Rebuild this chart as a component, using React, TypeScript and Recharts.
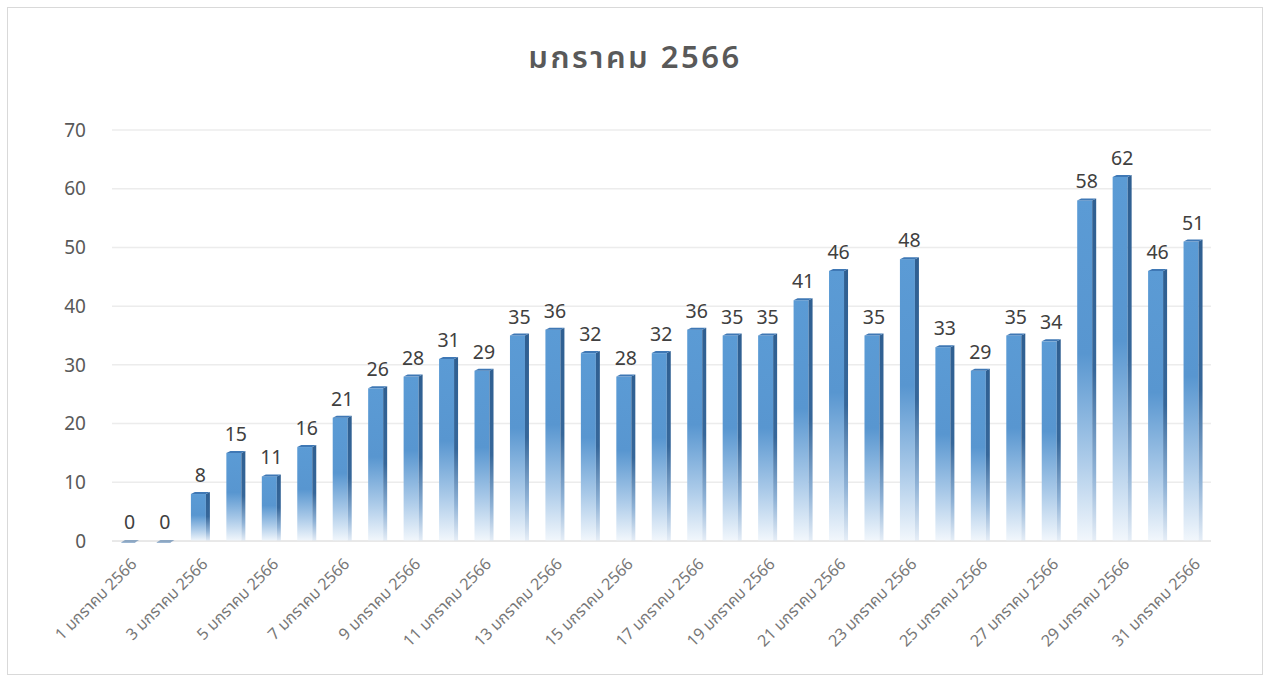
import React from 'react';
import { BarChart, Bar, XAxis, YAxis, CartesianGrid, LabelList } from 'recharts';

const days: number[] = [1,2,3,4,5,6,7,8,9,10,11,12,13,14,15,16,17,18,19,20,21,22,23,24,25,26,27,28,29,30,31];
const categories: string[] = days.map((d) => `${d} มกราคม 2566`);
const values: number[] = [0,0,8,15,11,16,21,26,28,31,29,35,36,32,28,32,36,35,35,41,46,35,48,33,29,35,34,58,62,46,51];
const yTicks: number[] = [0,10,20,30,40,50,60,70];
const title = 'มกราคม 2566';

const data = categories.map((c, i) => ({ name: c, value: values[i] }));

const FONT = "'Noto Sans', 'Noto Sans Thai', 'DejaVu Sans', 'Liberation Sans', sans-serif";

const Bar3D = (props: any) => {
  const { x, y, width, height } = props;
  const side = 4;
  const fw = width - side;
  if (!height || height <= 0.5) {
    return (
      <g>
        <polygon points={`${x + 1},${y + 1.5} ${x + 5},${y - 1} ${x + width},${y - 1} ${x + width - 4},${y + 1.5}`} fill="#3a6ea5" />
      </g>
    );
  }
  return (
    <g>
      <rect x={x} y={y} width={fw} height={height} fill="url(#frontGrad)" />
      <polygon
        points={`${x + fw},${y} ${x + width},${y - 2} ${x + width},${y + height} ${x + fw},${y + height}`}
        fill="url(#sideGrad)"
      />
      <polygon
        points={`${x},${y} ${x + side},${y - 2} ${x + width},${y - 2} ${x + fw},${y}`}
        fill="#3f78b5"
      />
    </g>
  );
};

export default function App() {
  return (
    <div
      style={{
        position: 'absolute',
        left: 7,
        top: 7,
        width: 1254,
        height: 666,
        border: '1px solid #d9d9d9',
        background: '#ffffff',
        fontFamily: FONT,
      }}
    >
      <div
        style={{
          position: 'absolute',
          left: 0,
          top: 27,
          width: '100%',
          textAlign: 'center',
          fontSize: 31,
          fontWeight: 600,
          color: '#595959',
          letterSpacing: 2.5,
          fontFamily: FONT,
        }}
      >
        {title}
      </div>
      <div style={{ position: 'absolute', left: 0, top: 0 }}>
        <BarChart
          width={1254}
          height={666}
          data={data}
          margin={{ top: 122, right: 51, bottom: 0, left: 0 }}
          barSize={19}
        >
          <defs>
            <linearGradient id="frontGrad" x1="0" y1="0" x2="0" y2="1">
              <stop offset="0%" stopColor="#5b9bd5" />
              <stop offset="45%" stopColor="#5896d0" />
              <stop offset="75%" stopColor="#a9c9e8" />
              <stop offset="100%" stopColor="#f2f7fc" />
            </linearGradient>
            <linearGradient id="sideGrad" x1="0" y1="0" x2="0" y2="1">
              <stop offset="0%" stopColor="#2f5f91" />
              <stop offset="50%" stopColor="#36679a" />
              <stop offset="80%" stopColor="#8fb2d6" />
              <stop offset="100%" stopColor="#e6eef7" />
            </linearGradient>
          </defs>
          <CartesianGrid vertical={false} stroke="#ececec" strokeWidth={1.5} />
          <XAxis
            dataKey="name"
            height={133}
            interval={1}
            tickLine={false}
            axisLine={{ stroke: '#e0e0e0' }}
            tick={{ fill: '#777777', fontSize: 16, fontFamily: FONT }}
            angle={-45}
            textAnchor="end"
            tickMargin={10}
          />
          <YAxis
            width={104}
            domain={[0, 70]}
            ticks={yTicks}
            axisLine={false}
            tickLine={false}
            tickMargin={20}
            tick={{ fill: '#595959', fontSize: 19, fontFamily: FONT }}
          />
          <Bar dataKey="value" shape={<Bar3D />} isAnimationActive={false}>
            <LabelList
              dataKey="value"
              position="top"
              offset={12}
              style={{ fill: '#404040', fontSize: 19.5, fontFamily: FONT }}
            />
          </Bar>
        </BarChart>
      </div>
    </div>
  );
}
